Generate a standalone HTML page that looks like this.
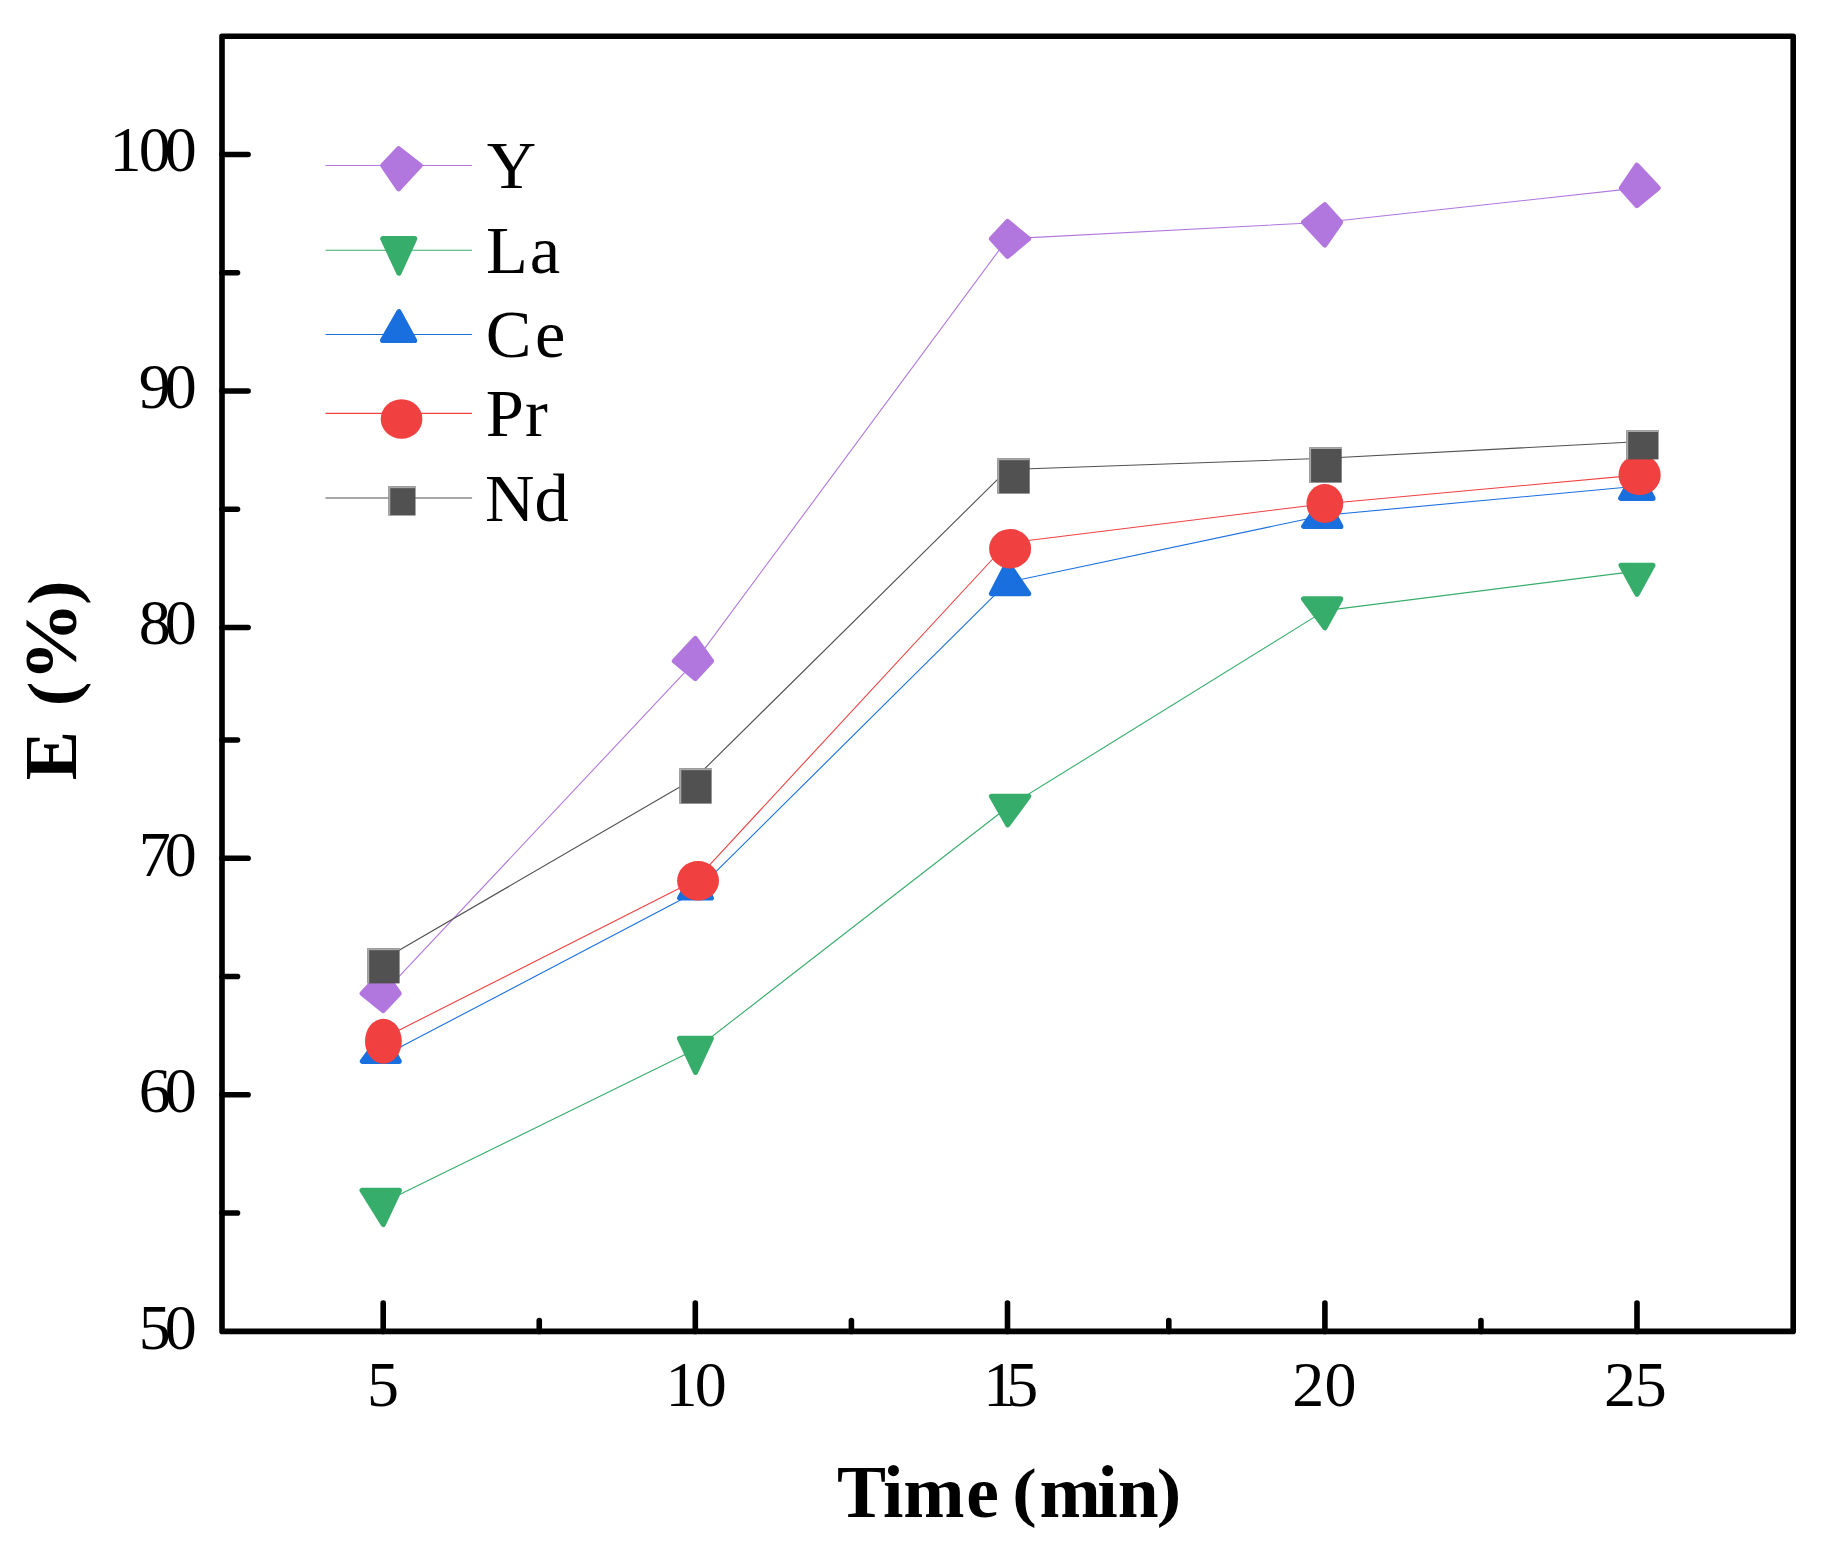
<!DOCTYPE html>
<html lang="en">
<head>
<meta charset="utf-8">
<title>E (%) vs Time (min)</title>
<style>
html,body{margin:0;padding:0;background:#fff;}
body{width:1826px;height:1546px;overflow:hidden;}
svg{display:block;}
</style>
</head>
<body>
<svg width="1826" height="1546" viewBox="0 0 1826 1546">
<rect width="1826" height="1546" fill="#fff"/>
<g id="axes" fill="none" stroke="#000" stroke-width="5.6" stroke-linecap="round" stroke-linejoin="round">
<rect x="222" y="36.2" width="1571.2" height="1295.2"/>
<line x1="222" y1="154.5" x2="248.1" y2="154.5"/>
<line x1="222" y1="391" x2="248.1" y2="391"/>
<line x1="222" y1="627.5" x2="248.1" y2="627.5"/>
<line x1="222" y1="858.3" x2="248.1" y2="858.3"/>
<line x1="222" y1="1094.8" x2="248.1" y2="1094.8"/>
<line x1="222" y1="272.75" x2="237.5" y2="272.75"/>
<line x1="222" y1="509.25" x2="237.5" y2="509.25"/>
<line x1="222" y1="740" x2="237.5" y2="740"/>
<line x1="222" y1="976.55" x2="237.5" y2="976.55"/>
<line x1="222" y1="1213.05" x2="237.5" y2="1213.05"/>
<line x1="383.2" y1="1331.4" x2="383.2" y2="1303.1"/>
<line x1="695.3" y1="1331.4" x2="695.3" y2="1303.1"/>
<line x1="1007.5" y1="1331.4" x2="1007.5" y2="1303.1"/>
<line x1="1324.9" y1="1331.4" x2="1324.9" y2="1303.1"/>
<line x1="1637" y1="1331.4" x2="1637" y2="1303.1"/>
<line x1="539.25" y1="1331.4" x2="539.25" y2="1320.5"/>
<line x1="851.4" y1="1331.4" x2="851.4" y2="1320.5"/>
<line x1="1168.8" y1="1331.4" x2="1168.8" y2="1320.5"/>
<line x1="1480.95" y1="1331.4" x2="1480.95" y2="1320.5"/>
</g>
<g id="ticklabels" font-family="'Liberation Serif', 'Times New Roman', serif" font-size="64" fill="#000">
<text x="109.4 138.7 164.65" y="171">100</text>
<text x="138.7 164.65" y="408.3">90</text>
<text x="138.7 164.65" y="644.3">80</text>
<text x="138.7 164.65" y="875.9">70</text>
<text x="138.7 164.65" y="1112.4">60</text>
<text x="138.7 164.65" y="1348.9">50</text>
<text x="366.9" y="1406.1">5</text>
<text x="665.5 694.7" y="1406.1">10</text>
<text x="983.3 1006.3" y="1406.1">15</text>
<text x="1292.3 1324.5" y="1406.1">20</text>
<text x="1604.1 1634.7" y="1406.1">25</text>
</g>
<g id="titles" font-family="'Liberation Serif', 'Times New Roman', serif" font-size="73.5" font-weight="bold" fill="#000">
<text x="837.1 882.9 903.3 966.3" y="1517">Time</text>
<text transform="translate(1012.3 1513.6) scale(1 0.906)" x="0" y="0">(</text>
<text x="1039.6 1097.3 1117.7" y="1517">min</text>
<text transform="translate(1156.8 1513.6) scale(1 0.906)" x="0" y="0">)</text>
<g transform="translate(76 780.3) rotate(-90)" font-size="74"><text x="0" y="0">E</text><text transform="translate(74 -0.5) scale(1 0.957)" x="0" y="0">(</text><text transform="translate(99.05 0) scale(1.07 1)" x="0" y="0">%</text><text transform="translate(175.2 -0.5) scale(1 0.957)" x="0" y="0">)</text></g>
</g>
<g id="series">
<g id="s-Y">
<polyline points="383.2,993.4 695.3,661.1 1007.5,238.8 1324.8,222.2 1636.9,188.1" fill="none" stroke="#B177DE" stroke-width="1.1" stroke-linejoin="round"/>
<polygon points="362.2,993.4 383.2,970.7 399.2,993.4 383.2,1010.6" fill="#B177DE" stroke="#B177DE" stroke-width="5.2" stroke-linejoin="round"/>
<polygon points="674.4,661.1 695.3,638.4 711.5,661.1 695.3,678.5" fill="#B177DE" stroke="#B177DE" stroke-width="5.2" stroke-linejoin="round"/>
<polygon points="991.5,238.8 1007.5,221.5 1028.5,238.8 1007.5,256.3" fill="#B177DE" stroke="#B177DE" stroke-width="5.2" stroke-linejoin="round"/>
<polygon points="1303.6,222.2 1324.8,204.8 1340.6,222.2 1324.8,244.9" fill="#B177DE" stroke="#B177DE" stroke-width="5.2" stroke-linejoin="round"/>
<polygon points="1621.3,188.1 1636.9,165.3 1658.2,188.1 1636.9,205.5" fill="#B177DE" stroke="#B177DE" stroke-width="5.2" stroke-linejoin="round"/>
</g>
<g id="s-La">
<polyline points="383.2,1202.6 695.3,1049.5 1007.5,807.2 1324.8,610.6 1636.9,571.1" fill="none" stroke="#37AD6B" stroke-width="1.1" stroke-linejoin="round"/>
<polygon points="362.1,1190.4 399.3,1190.4 383.3,1224.5" fill="#37AD6B" stroke="#37AD6B" stroke-width="5.2" stroke-linejoin="round"/>
<polygon points="679.5,1038.3 711.3,1038.3 695.5,1072.4" fill="#37AD6B" stroke="#37AD6B" stroke-width="5.2" stroke-linejoin="round"/>
<polygon points="991.5,796.3 1028.7,796.3 1007.7,824.8" fill="#37AD6B" stroke="#37AD6B" stroke-width="5.2" stroke-linejoin="round"/>
<polygon points="1303.6,598.9 1340.7,598.9 1324.9,627.7" fill="#37AD6B" stroke="#37AD6B" stroke-width="5.2" stroke-linejoin="round"/>
<polygon points="1621.1,565.3 1652.9,565.3 1637,594.2" fill="#37AD6B" stroke="#37AD6B" stroke-width="5.2" stroke-linejoin="round"/>
</g>
<g id="s-Ce">
<polyline points="383.2,1056.1 695.3,892.2 1007.5,582.3 1324.8,515.2 1636.9,486.2" fill="none" stroke="#1A6FDF" stroke-width="1.1" stroke-linejoin="round"/>
<polygon points="362.4,1061.3 399.2,1061.3 383.2,1032.6" fill="#1A6FDF" stroke="#1A6FDF" stroke-width="5.2" stroke-linejoin="round"/>
<polygon points="679.7,898 711.3,898 695.3,869.6" fill="#1A6FDF" stroke="#1A6FDF" stroke-width="5.2" stroke-linejoin="round"/>
<polygon points="991.5,593.6 1028.7,593.6 1007.5,562.6" fill="#1A6FDF" stroke="#1A6FDF" stroke-width="5.2" stroke-linejoin="round"/>
<polygon points="1303.7,526.4 1340.8,526.4 1324.8,495.6" fill="#1A6FDF" stroke="#1A6FDF" stroke-width="5.2" stroke-linejoin="round"/>
<polygon points="1620.7,498.3 1653,498.3 1636.9,468.6" fill="#1A6FDF" stroke="#1A6FDF" stroke-width="5.2" stroke-linejoin="round"/>
</g>
<g id="s-Pr">
<polyline points="383.2,1038.2 695.3,880.3 1007.5,543 1324.8,503.7 1636.9,475.1" fill="none" stroke="#F14040" stroke-width="1.1" stroke-linejoin="round"/>
<ellipse cx="383.4" cy="1041.22" rx="18.4" ry="22.43" fill="#F14040"/>
<ellipse cx="698.05" cy="880.7" rx="20.95" ry="19.7" fill="#F14040"/>
<ellipse cx="1010.1" cy="548.65" rx="21" ry="19.75" fill="#F14040"/>
<ellipse cx="1324.85" cy="503.5" rx="18.35" ry="19.6" fill="#F14040"/>
<ellipse cx="1639.6" cy="474.9" rx="21.1" ry="20.2" fill="#F14040"/>
</g>
<g id="s-Nd">
<polyline points="383.2,959.5 695.3,778 1007.5,469.6 1324.8,458.3 1636.9,441.8" fill="none" stroke="#515151" stroke-width="1.1" stroke-linejoin="round"/>
<rect x="367.3" y="948.3" width="32.3" height="35.1" fill="#515151"/><rect x="367.3" y="948.3" width="32.3" height="1.9" fill="#A8A8A8"/><rect x="367.3" y="948.3" width="1.9" height="35.1" fill="#A8A8A8"/>
<rect x="679.4" y="768.3" width="32.2" height="35.3" fill="#515151"/><rect x="679.4" y="768.3" width="32.2" height="1.9" fill="#A8A8A8"/><rect x="679.4" y="768.3" width="1.9" height="35.3" fill="#A8A8A8"/>
<rect x="997.3" y="458.3" width="32.4" height="35.3" fill="#515151"/><rect x="997.3" y="458.3" width="32.4" height="1.9" fill="#A8A8A8"/><rect x="997.3" y="458.3" width="1.9" height="35.3" fill="#A8A8A8"/>
<rect x="1309.2" y="447.1" width="32.5" height="35.5" fill="#515151"/><rect x="1309.2" y="447.1" width="32.5" height="1.9" fill="#A8A8A8"/><rect x="1309.2" y="447.1" width="1.9" height="35.5" fill="#A8A8A8"/>
<rect x="1626.3" y="430.1" width="32.2" height="29.3" fill="#515151"/><rect x="1626.3" y="430.1" width="32.2" height="1.9" fill="#A8A8A8"/><rect x="1626.3" y="430.1" width="1.9" height="29.3" fill="#A8A8A8"/>
</g>
</g>
<g id="legend" font-family="'Liberation Serif', 'Times New Roman', serif" font-size="68.5" fill="#000">
<line x1="325.5" y1="165.5" x2="472.1" y2="165.5" stroke="#B177DE" stroke-width="1.1"/>
<polygon points="382.8,165.5 398.6,148.7 420.1,165.5 398.6,188.7" fill="#B177DE" stroke="#B177DE" stroke-width="5.2" stroke-linejoin="round"/>
<text x="486.8" y="188.2">Y</text>
<line x1="325.5" y1="250.3" x2="472.1" y2="250.3" stroke="#37AD6B" stroke-width="1.1"/>
<polygon points="382.8,238.7 414.7,238.7 398.9,273.1" fill="#37AD6B" stroke="#37AD6B" stroke-width="5.2" stroke-linejoin="round"/>
<text x="485.9 529.7" y="273">La</text>
<line x1="325.5" y1="334.5" x2="472.1" y2="334.5" stroke="#1A6FDF" stroke-width="1.1"/>
<polygon points="382.6,340.4 414.6,340.4 398.9,311.7" fill="#1A6FDF" stroke="#1A6FDF" stroke-width="5.2" stroke-linejoin="round"/>
<text x="485.8 535" y="357.1">Ce</text>
<line x1="325.5" y1="413.4" x2="472.1" y2="413.4" stroke="#F14040" stroke-width="1.1"/>
<ellipse cx="401.55" cy="419" rx="20.85" ry="19.8" fill="#F14040"/>
<text x="485.8 524.9" y="436">Pr</text>
<line x1="325.5" y1="498" x2="472.1" y2="498" stroke="#515151" stroke-width="1.1"/>
<rect x="388.4" y="486.3" width="27.1" height="29.2" fill="#515151"/><rect x="388.4" y="486.3" width="27.1" height="1.9" fill="#A8A8A8"/><rect x="388.4" y="486.3" width="1.9" height="29.2" fill="#A8A8A8"/>
<text x="485 534.4" y="520.8">Nd</text>
</g>
</svg>
</body>
</html>
